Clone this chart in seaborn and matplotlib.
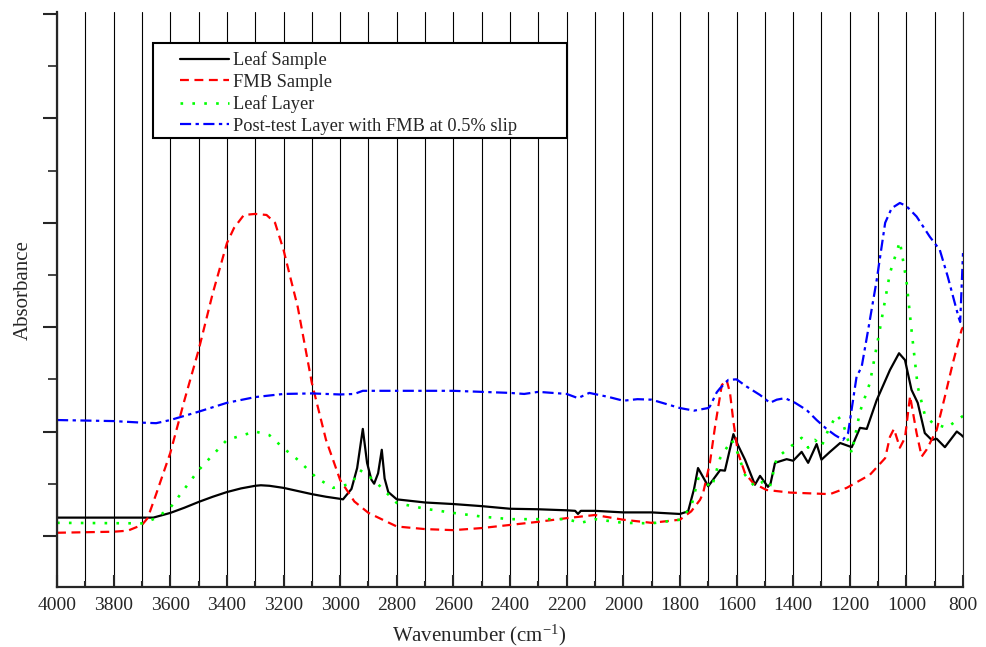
import matplotlib
matplotlib.use("Agg")
import matplotlib.pyplot as plt
from matplotlib.patches import Rectangle
from matplotlib.ticker import MultipleLocator, NullFormatter
import seaborn as sns

# ── Spectra (wavenumber, absorbance a.u.) ────────────────────────────────────

leaf_wn = [4000, 3800, 3660, 3600, 3550, 3500, 3450, 3400, 3350, 3300, 3280,
           3250, 3200, 3150, 3100, 3050, 3000, 2990, 2960, 2940, 2920, 2905,
           2890, 2880, 2866, 2853, 2843, 2830, 2800, 2700, 2600, 2500, 2400,
           2300, 2200, 2170, 2160, 2150, 2100, 2000, 1900, 1800, 1771, 1750,
           1736, 1700, 1658, 1641, 1611, 1595, 1570, 1535, 1517, 1489, 1480,
           1464, 1423, 1400, 1370, 1347, 1317, 1300, 1270, 1234, 1193, 1164,
           1140, 1105, 1058, 1026, 1005, 982, 960, 935, 911, 893, 864, 822,
           805, 800]
leaf_abs = [0.035, 0.035, 0.035, 0.044, 0.054, 0.065, 0.075, 0.084, 0.091,
            0.096, 0.097, 0.096, 0.092, 0.086, 0.080, 0.075, 0.071, 0.070,
            0.090, 0.130, 0.205, 0.140, 0.108, 0.100, 0.120, 0.165, 0.110,
            0.084, 0.070, 0.064, 0.061, 0.057, 0.052, 0.051, 0.049, 0.048,
            0.042, 0.048, 0.048, 0.045, 0.045, 0.042, 0.047, 0.090, 0.130,
            0.095, 0.126, 0.125, 0.195, 0.174, 0.146, 0.098, 0.115, 0.094,
            0.100, 0.140, 0.147, 0.144, 0.161, 0.140, 0.176, 0.146, 0.161,
            0.178, 0.170, 0.207, 0.205, 0.260, 0.318, 0.350, 0.337, 0.280,
            0.255, 0.197, 0.184, 0.186, 0.170, 0.200, 0.193, 0.190]

fmb_wn = [4000, 3800, 3750, 3700, 3680, 3650, 3600, 3550, 3500, 3450, 3400,
          3375, 3340, 3300, 3260, 3230, 3200, 3180, 3150, 3100, 3050, 3000,
          2950, 2900, 2800, 2700, 2600, 2500, 2400, 2300, 2200, 2100, 2000,
          1900, 1800, 1760, 1729, 1718, 1694, 1676, 1652, 1635, 1623, 1611,
          1595, 1570, 1541, 1494, 1411, 1270, 1211, 1129, 1075, 1058, 1044,
          1023, 1005, 987, 964, 946, 929, 893, 864, 836, 805, 800]
fmb_abs = [0.006, 0.008, 0.010, 0.021, 0.034, 0.080, 0.159, 0.260, 0.356,
           0.465, 0.561, 0.590, 0.615, 0.617, 0.615, 0.600, 0.548, 0.504,
           0.439, 0.293, 0.184, 0.107, 0.066, 0.044, 0.018, 0.013, 0.011,
           0.015, 0.021, 0.027, 0.034, 0.040, 0.031, 0.025, 0.031, 0.047,
           0.069, 0.082, 0.140, 0.209, 0.289, 0.299, 0.274, 0.219, 0.159,
           0.120, 0.101, 0.088, 0.083, 0.080, 0.092, 0.117, 0.149, 0.190,
           0.205, 0.169, 0.188, 0.268, 0.197, 0.152, 0.165, 0.203, 0.267,
           0.331, 0.395, 0.400]

layer_wn = [4000, 3700, 3650, 3600, 3500, 3400, 3300, 3250, 3200, 3150, 3083,
            3025, 2960, 2930, 2900, 2870, 2800, 2700, 2600, 2500, 2400, 2300,
            2200, 2150, 2100, 2000, 1900, 1800, 1760, 1735, 1700, 1688, 1658,
            1617, 1600, 1570, 1535, 1506, 1482, 1458, 1423, 1370, 1347, 1323,
            1300, 1276, 1246, 1224, 1193, 1164, 1129, 1094, 1058, 1023, 1000,
            982, 960, 935, 907, 858, 805, 800]
layer_abs = [0.025, 0.024, 0.034, 0.054, 0.126, 0.184, 0.200, 0.193, 0.168,
             0.146, 0.111, 0.092, 0.100, 0.126, 0.115, 0.101, 0.063, 0.052,
             0.044, 0.037, 0.032, 0.032, 0.032, 0.025, 0.032, 0.025, 0.024,
             0.031, 0.056, 0.110, 0.098, 0.092, 0.149, 0.184, 0.165, 0.117,
             0.094, 0.104, 0.094, 0.149, 0.165, 0.188, 0.169, 0.184, 0.171,
             0.203, 0.232, 0.216, 0.159, 0.238, 0.293, 0.395, 0.504, 0.564,
             0.490, 0.395, 0.286, 0.232, 0.216, 0.207, 0.228, 0.230]

post_wn = [4000, 3800, 3700, 3650, 3600, 3500, 3400, 3300, 3200, 3100, 3000,
           2950, 2920, 2800, 2700, 2600, 2500, 2400, 2350, 2300, 2200, 2160,
           2120, 2050, 2000, 1950, 1900, 1800, 1750, 1700, 1694, 1670, 1658,
           1629, 1600, 1564, 1517, 1482, 1458, 1429, 1393, 1352, 1317, 1282,
           1252, 1224, 1206, 1176, 1158, 1135, 1105, 1075, 1052, 1023, 1000,
           964, 917, 882, 854, 829, 815, 810, 800]
post_abs = [0.222, 0.220, 0.217, 0.216, 0.222, 0.238, 0.255, 0.266, 0.272,
            0.273, 0.271, 0.272, 0.278, 0.278, 0.278, 0.278, 0.276, 0.274,
            0.272, 0.276, 0.272, 0.264, 0.274, 0.266, 0.259, 0.262, 0.261,
            0.245, 0.240, 0.245, 0.248, 0.275, 0.283, 0.299, 0.300, 0.286,
            0.270, 0.255, 0.261, 0.264, 0.255, 0.241, 0.222, 0.205, 0.193,
            0.184, 0.197, 0.305, 0.324, 0.395, 0.490, 0.600, 0.628, 0.638,
            0.632, 0.612, 0.573, 0.548, 0.497, 0.446, 0.418, 0.410, 0.542]

series = [
    ("Leaf Sample", leaf_wn, leaf_abs, "#000000", "-", 1.6),
    ("FMB Sample", fmb_wn, fmb_abs, "#ff0000", (0, (4, 2.5)), 1.6),
    ("Leaf Layer", layer_wn, layer_abs, "#00ff00", (0, (1, 3.5)), 1.9),
    ("Post-test Layer with FMB at 0.5% slip", post_wn, post_abs, "#0000ff",
     (0, (5, 2, 1.5, 2)), 1.6),
]

# ── Figure ────────────────────────────────────────────────────────────────────

sns.set_style("ticks")
plt.rcParams["font.family"] = ["Liberation Serif", "DejaVu Serif"]
plt.rcParams["mathtext.default"] = "regular"

fig, ax = plt.subplots(figsize=(9.87, 6.47), dpi=100)
fig.subplots_adjust(left=0.0578, right=0.9757, bottom=0.0927, top=0.9815)

for label, wn, ab, colour, ls, lw in series:
    sns.lineplot(x=wn, y=ab, ax=ax, color=colour, linestyle=ls, linewidth=lw,
                 label=label, sort=False, estimator=None, legend=False)

ax.set_xlim(4000, 800)
ax.set_ylim(-0.098, 1.004)

ax.xaxis.set_major_locator(MultipleLocator(200))
ax.xaxis.set_minor_locator(MultipleLocator(100))
ax.yaxis.set_major_locator(MultipleLocator(0.2))
ax.yaxis.set_minor_locator(MultipleLocator(0.1))
ax.yaxis.set_major_formatter(NullFormatter())

ax.grid(axis="x", which="both", color="black", linewidth=0.8)
ax.set_axisbelow(True)

ax.tick_params(axis="x", which="major", direction="in", length=8.5, width=1.5,
               labelsize=14, pad=7)
ax.tick_params(axis="x", which="minor", direction="in", length=4.3, width=1.5)
ax.tick_params(axis="y", which="major", direction="out", length=10, width=1.5)
ax.tick_params(axis="y", which="minor", direction="out", length=6.5, width=1.2)

ax.spines["top"].set_visible(False)
ax.spines["right"].set_linewidth(0.8)
ax.spines["left"].set_linewidth(1.6)
ax.spines["bottom"].set_linewidth(1.6)

ax.set_xlabel("Wavenumber (cm$^{-1}$)", fontsize=15)
ax.set_ylabel("Absorbance", fontsize=15)
ax.xaxis.set_label_coords(0.466, -0.062)
ax.yaxis.set_label_coords(-0.0265, 0.517)

# legend box drawn separately so the handles can sit further in
ax.add_patch(Rectangle((0.106, 0.781), 0.457, 0.165, transform=ax.transAxes,
                       facecolor="white", edgecolor="black", linewidth=1.5,
                       zorder=4.9))
handles, labels = ax.get_legend_handles_labels()
leg = ax.legend(handles, labels, loc="upper left",
                bbox_to_anchor=(0.136, 0.932), frameon=False, borderpad=0,
                borderaxespad=0, handlelength=2.65, handletextpad=0.22,
                labelspacing=0.25, fontsize=13.2)
leg.set_zorder(5)

fig.savefig("out.png", dpi=100)
